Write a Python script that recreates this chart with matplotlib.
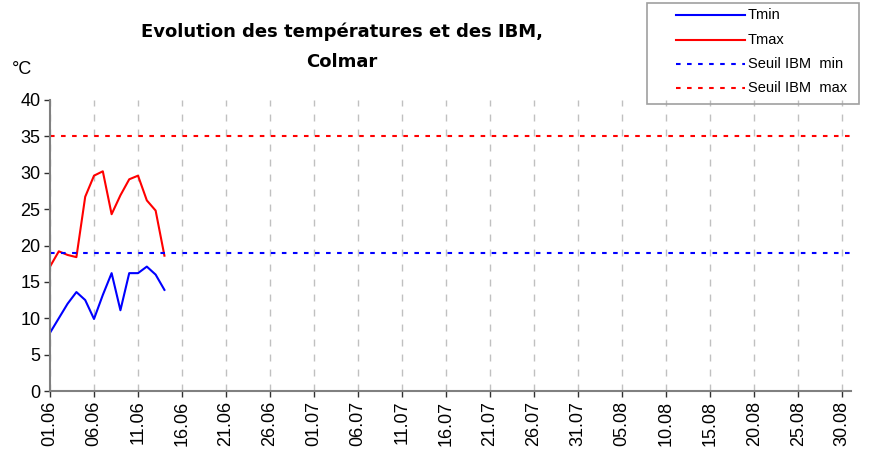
import numpy as np
import pandas as pd
import matplotlib
matplotlib.use("Agg")
import matplotlib.pyplot as plt
from matplotlib.lines import Line2D
from matplotlib.patches import Rectangle

plt.rcParams['font.family'] = ['Liberation Sans', 'DejaVu Sans']

# jours du 01.06 au 31.08
days = pd.date_range("2009-06-01", "2009-08-31", freq="D")
tick_idx = list(range(0, len(days), 5))
tick_labels = [days[i].strftime("%d.%m") for i in tick_idx]

tmin = [8.0, 10.0, 12.0, 13.6, 12.5, 9.9, 13.2, 16.2, 11.1, 16.2, 16.2, 17.1, 16.0, 13.9]
tmax = [17.1, 19.2, 18.7, 18.4, 26.7, 29.6, 30.2, 24.3, 26.9, 29.1, 29.6, 26.2, 24.8, 18.6]
seuil_min = 19
seuil_max = 35

W, H = 871, 463
fig = plt.figure(figsize=(W / 100, H / 100), dpi=100)
ax = fig.add_axes([50 / W, 1 - 391 / H, 801 / W, 291 / H])

dots = (0, (2.2, 3.1))
x = np.arange(len(tmin))
ax.plot(x, tmin, color="#0000ff", lw=1.5)
ax.plot(x, tmax, color="#ff0000", lw=1.5)
ax.axhline(seuil_min, color="#0000ff", lw=1.5, ls=dots)
ax.axhline(seuil_max, color="#ff0000", lw=1.5, ls=dots)

ax.set_xlim(0, len(days) - 1)
ax.set_ylim(0, 40)
ax.set_yticks(range(0, 41, 5))
ax.set_xticks(tick_idx)
ax.set_xticklabels(tick_labels, rotation=90, fontsize=13)
ax.tick_params(axis="y", labelsize=13, length=4, width=1, color="#303030", pad=3)
ax.tick_params(axis="x", length=4, width=1, color="#303030", pad=3)
ax.grid(axis="x", color="#c0c0c0", ls=(0, (5, 5.8)), lw=1)

for s in ["top", "right"]:
    ax.spines[s].set_visible(False)
for s in ["left", "bottom"]:
    ax.spines[s].set_color("#808080")
    ax.spines[s].set_linewidth(1.5)

fig.text(342 / W, 1 - 32 / H, "Evolution des températures et des IBM,",
         ha="center", va="center", fontsize=13, fontweight="bold",
         family=["DejaVu Sans"])
fig.text(342 / W, 1 - 62 / H, "Colmar",
         ha="center", va="center", fontsize=13, fontweight="bold",
         family=["DejaVu Sans"])
fig.text(12 / W, 1 - 70 / H, "°C", fontsize=13, va="center")

# légende dessinée à la main
fig.patches.append(Rectangle((647 / W, 1 - 104 / H), 212 / W, 101 / H,
                             transform=fig.transFigure, fill=False,
                             edgecolor="#a0a0a0", lw=1.2))
leg_labels = ["Tmin", "Tmax", "Seuil IBM  min", "Seuil IBM  max"]
leg_colors = ["#0000ff", "#ff0000", "#0000ff", "#ff0000"]
leg_styles = ["-", "-", dots, dots]
leg_rows = [15, 40, 64, 88]
for lab, col, st, yy in zip(leg_labels, leg_colors, leg_styles, leg_rows):
    fig.add_artist(Line2D([676 / W, 745 / W], [1 - yy / H] * 2, color=col,
                          lw=1.5, ls=st, transform=fig.transFigure))
    fig.text(748 / W, 1 - yy / H, lab, fontsize=10.5, va="center")

fig.savefig("out.png", dpi=100)
